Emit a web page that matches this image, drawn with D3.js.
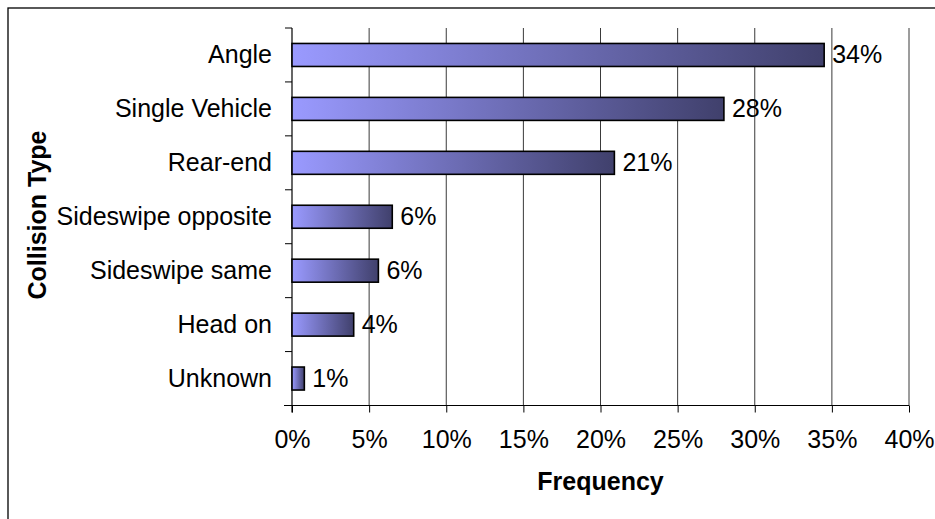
<!DOCTYPE html>
<html>
<head>
  <meta charset="UTF-8">
  <title>Collision Type Frequency</title>
  <style>
    body { margin: 0; background: #ffffff; }
    svg { display: block; }
    text { font-family: "Liberation Sans", Arial, sans-serif; fill: #000; }
  </style>
</head>
<body>
<svg></svg>
<script src="https://d3js.org/d3.v7.min.js"></script>
<script>

// chart data
let categories = ["Angle", "Single Vehicle", "Rear-end", "Sideswipe opposite", "Sideswipe same", "Head on", "Unknown"];
let values = [34.5, 28.0, 20.9, 6.5, 5.6, 4.0, 0.8];
let valueLabels = ["34%", "28%", "21%", "6%", "6%", "4%", "1%"];
let xTicks = [0, 5, 10, 15, 20, 25, 30, 35, 40];

let width = 935, height = 519;
let plotLeft = 292, plotRight = 909, plotTop = 28, plotBottom = 405.5;

let svg = d3.select("svg")
    .attr("width", width)
    .attr("height", height);

// outer chart border (runs off the right and bottom edges)
svg.append("rect")
    .attr("x", 8).attr("y", 8)
    .attr("width", 940).attr("height", 530)
    .attr("fill", "none")
    .attr("stroke", "#000")
    .attr("stroke-width", 1.3);

let grad = svg.append("defs").append("linearGradient")
    .attr("id", "barGrad")
    .attr("x1", "0%").attr("x2", "100%")
    .attr("y1", "0%").attr("y2", "0%");
grad.append("stop").attr("offset", "0%").attr("stop-color", "#9a9aff");
grad.append("stop").attr("offset", "100%").attr("stop-color", "#40406c");

let x = d3.scaleLinear().domain([0, 40]).range([plotLeft, plotRight]);
let y = d3.scaleBand().domain(categories).range([plotTop, plotBottom]);

// vertical gridlines
svg.append("g")
    .selectAll("line")
    .data(xTicks.slice(1))
    .enter()
    .append("line")
        .attr("x1", d => x(d)).attr("x2", d => x(d))
        .attr("y1", plotTop).attr("y2", plotBottom)
        .attr("stroke", "#3a3a3a")
        .attr("stroke-width", 1);

// x axis
let xAxis = svg.append("g")
    .attr("transform", "translate(0," + plotBottom + ")")
    .call(d3.axisBottom(x).tickValues(xTicks).tickSize(7).tickSizeOuter(0).tickPadding(12)
        .tickFormat(d => d + "%"));
xAxis.select(".domain").remove();
xAxis.selectAll(".tick line").attr("stroke", "#000");
xAxis.selectAll("text")
    .attr("font-size", "25px")
    .attr("font-family", "Liberation Sans, Arial, sans-serif")
    .attr("dy", "0.95em");
svg.append("line")
    .attr("x1", plotLeft - 8).attr("x2", plotRight)
    .attr("y1", plotBottom).attr("y2", plotBottom)
    .attr("stroke", "#000").attr("stroke-width", 1.2);

// y axis line and ticks at band boundaries
svg.append("line")
    .attr("x1", plotLeft).attr("x2", plotLeft)
    .attr("y1", plotTop).attr("y2", plotBottom + 7)
    .attr("stroke", "#000").attr("stroke-width", 1.2);
let bounds = categories.map(c => y(c));
svg.append("g")
    .selectAll("line")
    .data(bounds)
    .enter()
    .append("line")
        .attr("x1", plotLeft - 7).attr("x2", plotLeft)
        .attr("y1", d => d).attr("y2", d => d)
        .attr("stroke", "#000");

// category labels
svg.append("g")
    .selectAll("text")
    .data(categories)
    .enter()
    .append("text")
        .attr("x", 272)
        .attr("y", d => y(d) + y.bandwidth() / 2)
        .attr("dy", "0.34em")
        .attr("text-anchor", "end")
        .attr("font-size", "25px")
        .text(d => d);

// bars
let barH = 23;
svg.append("g")
    .selectAll("rect")
    .data(values)
    .enter()
    .append("rect")
        .attr("x", x(0))
        .attr("y", (d, i) => y(categories[i]) + y.bandwidth() / 2 - barH / 2)
        .attr("width", d => x(d) - x(0))
        .attr("height", barH)
        .attr("fill", "url(#barGrad)")
        .attr("stroke", "#000")
        .attr("stroke-width", 1.6);

// value labels
svg.append("g")
    .selectAll("text")
    .data(values)
    .enter()
    .append("text")
        .attr("x", d => x(d) + 8)
        .attr("y", (d, i) => y(categories[i]) + y.bandwidth() / 2)
        .attr("dy", "0.34em")
        .attr("font-size", "25px")
        .text((d, i) => valueLabels[i]);

// axis titles
svg.append("text")
    .attr("x", (plotLeft + plotRight) / 2)
    .attr("y", 490)
    .attr("text-anchor", "middle")
    .attr("font-size", "25px")
    .attr("font-weight", "bold")
    .text("Frequency");

svg.append("text")
    .attr("transform", "translate(46," + 215 + ") rotate(-90)")
    .attr("text-anchor", "middle")
    .attr("font-size", "25px")
    .attr("font-weight", "bold")
    .text("Collision Type");

</script>
</body>
</html>
